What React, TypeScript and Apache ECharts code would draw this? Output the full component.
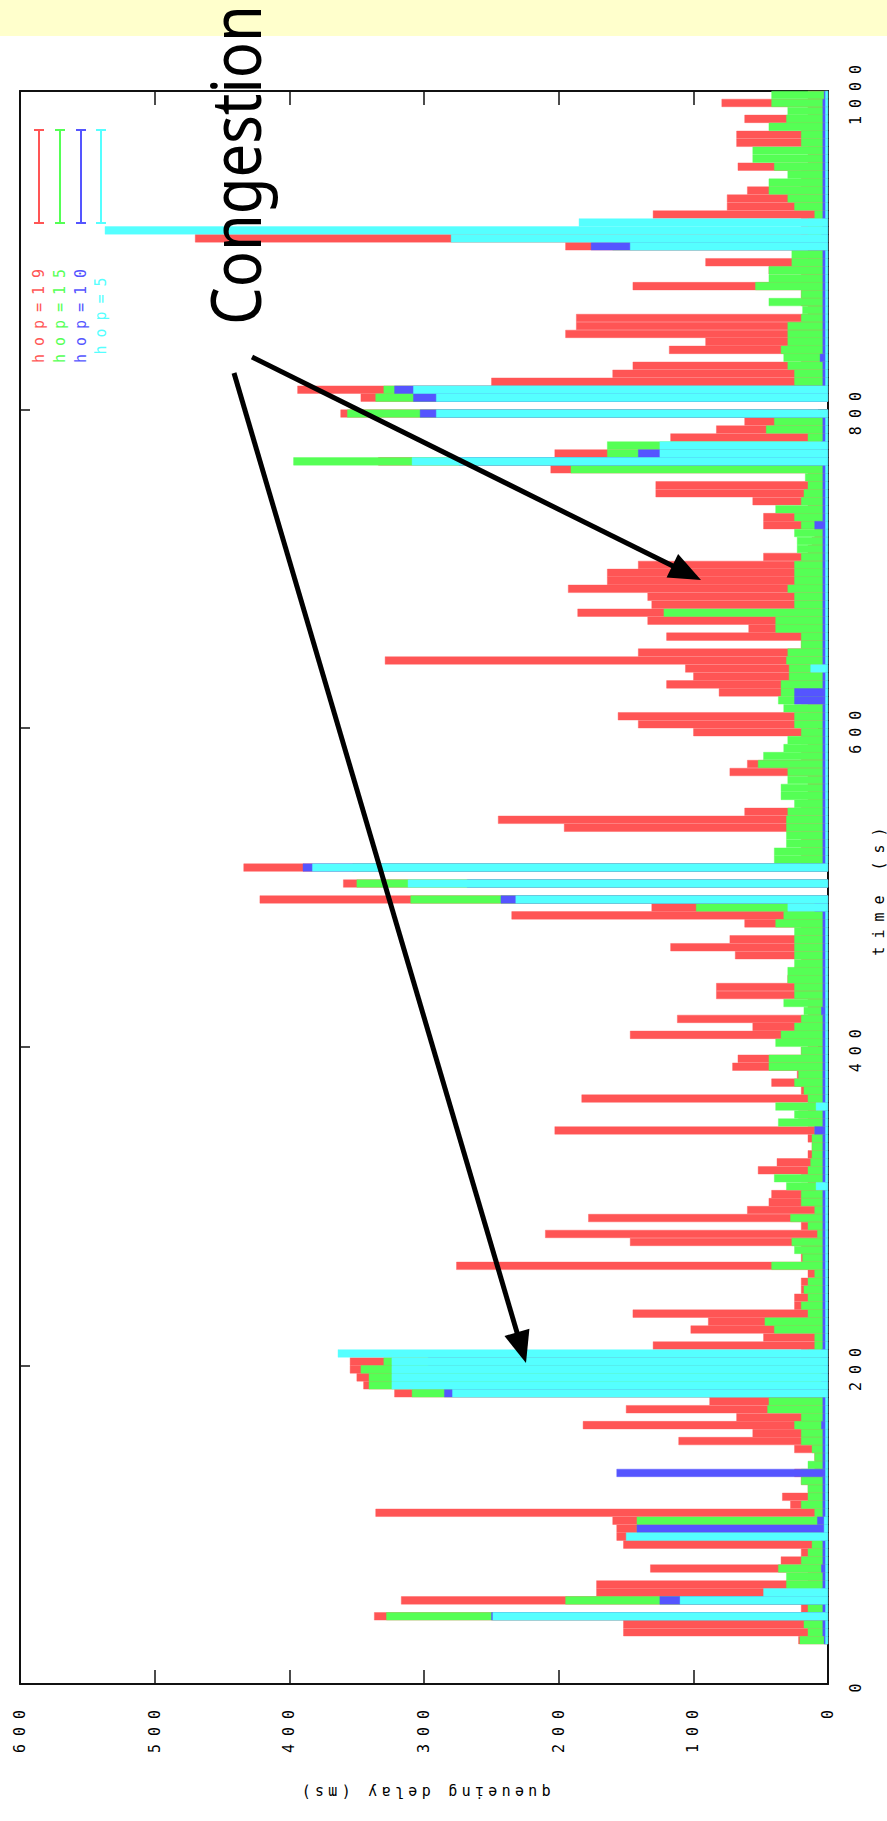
import React, { useEffect, useRef } from "react";
import * as echarts from "echarts";

// ---------- data (5-second bins, bin i covers i*5 .. i*5+5 s) ----------
const BIN_SECONDS = 5;

// queueing delay (ms) of the path up to hop 19
const HOP19: (number | null)[] = [
  null, null, null, null, null, 22, 152, 152, 337, 20,
  317, 172, 172, 15, 132, 35, 20, 152, 157, 157,
  160, 336, 28, 34, 15, 20, 25, 10, 10, 25,
  111, 56, 182, 68, 150, 88, 322, 345, 350, 355,
  355, 20, 130, 48, 102, 89, 145, 25, 25, 20,
  20, 15, 276, 20, 20, 147, 210, 20, 178, 60,
  44, 42, 15, 20, 52, 38, 15, 12, 15, 203,
  15, 22, 15, 183, 20, 42, 23, 71, 67, 20,
  15, 147, 56, 112, 15, 15, 83, 83, 30, 25,
  20, 69, 117, 73, 20, 62, 235, 131, 422, null,
  360, null, 434, 20, 20, 20, 20, 196, 245, 62,
  20, 15, 15, 15, 73, 60, 20, 15, 20, 100,
  141, 156, 15, 20, 81, 120, 100, 106, 329, 141,
  20, 120, 59, 134, 186, 131, 134, 193, 164, 164,
  141, 48, 15, 12, 10, 48, 48, 15, 56, 128,
  128, 15, 206, 334, 203, 117, 117, 83, 62, 362,
  null, 347, 394, 250, 160, 145, 20, 118, 91, 195,
  187, 187, 15, 20, 20, 145, 20, 44, 91, 15,
  195, 470, 20, 20, 130, 75, 75, 60, 20, 20,
  67, 15, 15, 68, 68, 20, 62, 15, 79, 15,
];

const HOP15: (number | null)[] = [
  null, null, null, null, null, 21, 15, 18, 328, 15,
  195, 30, 31, 31, 37, 20, 15, 12, 20, 142,
  142, 10, 20, 15, 15, 20, 20, 15, 10, 12,
  20, 20, 25, 20, 45, 44, 309, 341, 341, 347,
  330, 15, 10, 10, 40, 47, 15, 20, 15, 18,
  15, 10, 42, 19, 25, 27, 8, 15, 28, 10,
  20, 20, 31, 40, 15, 13, 12, 12, 12, 10,
  37, 25, 39, 15, 18, 25, 22, 44, 44, 20,
  39, 35, 25, 20, 18, 33, 25, 25, 30, 30,
  25, 25, 25, 25, 25, 39, 33, 98, 310, null,
  350, null, 353, 40, 40, 31, 31, 31, 31, 30,
  25, 35, 35, 30, 30, 52, 48, 33, 30, 20,
  25, 25, 33, 37, 35, 35, 29, 29, 31, 30,
  20, 20, 39, 39, 122, 25, 25, 30, 25, 25,
  25, 20, 23, 23, 25, 20, 25, 39, 20, 18,
  15, 17, 191, 397, 164, 164, 15, 46, 40, 357,
  null, 336, 330, 25, 25, 30, 33, 35, 30, 30,
  30, 20, 19, 44, 20, 54, 44, 44, 27, 27,
  160, 15, 15, 15, 10, 25, 30, 44, 44, 30,
  40, 56, 56, 20, 20, 44, 31, 30, 42, 42,
];

const HOP10: (number | null)[] = [
  null, null, null, null, null, 3, 4, 4, 250, 4,
  125, 5, 4, 4, 5, 4, 4, 4, 5, 142,
  8, 4, 4, 4, 4, 4, 157, 4, 4, 4,
  4, 4, 5, 4, 4, 4, 285, 5, 5, 3,
  297, 5, 4, 4, 4, 4, 4, 4, 4, 4,
  4, 4, 4, 4, 4, 4, 4, 4, 4, 4,
  4, 4, 4, 4, 4, 4, 4, 4, 4, 10,
  4, 4, 4, 4, 4, 4, 4, 4, 4, 4,
  4, 4, 4, 4, 5, 4, 4, 4, 4, 4,
  4, 4, 4, 4, 4, 4, 4, 10, 243, null,
  268, null, 390, 4, 4, 4, 4, 4, 4, 4,
  4, 4, 4, 4, 4, 4, 4, 4, 4, 4,
  4, 4, 4, 25, 25, 4, 4, 4, 4, 4,
  4, 4, 4, 4, 4, 4, 4, 4, 4, 4,
  4, 4, 4, 4, 4, 10, 4, 4, 4, 4,
  4, 4, 4, 274, 141, 5, 4, 4, 4, 303,
  null, 308, 322, 4, 4, 4, 6, 4, 4, 4,
  4, 4, 4, 4, 4, 4, 4, 4, 4, 4,
  176, 5, 4, 4, 4, 4, 4, 4, 4, 4,
  4, 4, 4, 4, 4, 4, 4, 4, 4, 3,
];

const HOP5: (number | null)[] = [
  null, null, null, null, null, 2, 2, 2, 249, 2,
  110, 48, 2, 2, 2, 2, 2, 2, 150, 3,
  3, 2, 2, 2, 2, 2, 2, 2, 2, 2,
  2, 2, 2, 2, 2, 2, 279, 324, 324, 324,
  324, 364, 2, 2, 2, 2, 2, 2, 2, 2,
  2, 2, 2, 2, 2, 2, 2, 2, 2, 2,
  2, 2, 9, 2, 2, 2, 2, 2, 2, 2,
  2, 2, 9, 2, 2, 2, 2, 2, 2, 2,
  2, 2, 2, 2, 2, 2, 2, 2, 2, 2,
  2, 2, 2, 2, 2, 2, 2, 30, 232, null,
  312, null, 383, 2, 2, 2, 2, 2, 2, 2,
  2, 2, 2, 2, 2, 2, 2, 2, 2, 2,
  2, 2, 2, 2, 2, 2, 2, 13, 2, 2,
  2, 2, 2, 2, 2, 2, 2, 2, 2, 2,
  2, 2, 2, 2, 2, 2, 2, 2, 2, 2,
  2, 2, 2, 309, 125, 125, 2, 2, 2, 291,
  null, 291, 308, 2, 2, 2, 2, 2, 2, 2,
  2, 2, 2, 2, 2, 2, 2, 2, 2, 2,
  147, 280, 537, 185, 2, 2, 2, 2, 2, 2,
  2, 2, 2, 2, 2, 2, 2, 2, 2, 2,
];

const SERIES_NAMES = ["hop=19", "hop=15", "hop=10", "hop=5"];
const DELAY_MAX = 600;
const DELAY_STEP = 100;
const TIME_MAX = 1000;
const TIME_STEP = 200;

// ---------- styles ----------
const COLORS = ["#ff5555", "#55ff55", "#5555ff", "#55ffff"];
const MONO = '"DejaVu Sans Mono", "Liberation Mono", monospace';
const W = 887;
const H = 1821;
const GRID = { left: 20, right: 59, top: 91, bottom: 137 };

function arrow(from: number[], to: number[]) {
  const dx = to[0] - from[0];
  const dy = to[1] - from[1];
  const len = Math.sqrt(dx * dx + dy * dy);
  const ux = dx / len;
  const uy = dy / len;
  const L = 32;
  const HW = 13;
  const bx = to[0] - ux * L;
  const by = to[1] - uy * L;
  const px = -uy;
  const py = ux;
  return [
    {
      type: "line",
      z: 100,
      shape: { x1: from[0], y1: from[1], x2: bx + ux * 4, y2: by + uy * 4 },
      style: { stroke: "#000", lineWidth: 5 },
    },
    {
      type: "polygon",
      z: 100,
      shape: {
        points: [
          [to[0], to[1]],
          [bx + px * HW, by + py * HW],
          [bx - px * HW, by - py * HW],
        ],
      },
      style: { fill: "#000" },
    },
  ];
}

export default function App() {
  const ref = useRef<HTMLDivElement>(null);

  useEffect(() => {
    const el = ref.current!;
    const chart = echarts.init(el, null, { renderer: "svg" });
    const bins = HOP19.map((_, i) => String(i * BIN_SECONDS));
    const dataSets = [HOP19, HOP15, HOP10, HOP5];

    const frameLine = { show: true, onZero: false, lineStyle: { color: "#111", width: 2 } };
    const labelStyle = { fontFamily: MONO, fontSize: 15, color: "#000", formatter: (v: number) => String(v) };

    const legendX = [39, 60, 81, 101];
    const legendEls: any[] = [];
    SERIES_NAMES.forEach((name, i) => {
      const x = legendX[i];
      const c = COLORS[i];
      legendEls.push(
        { type: "line", z: 100, shape: { x1: x, y1: 130, x2: x, y2: 223 }, style: { stroke: c, lineWidth: 2 } },
        { type: "line", z: 100, shape: { x1: x - 5, y1: 130, x2: x + 5, y2: 130 }, style: { stroke: c, lineWidth: 2 } },
        { type: "line", z: 100, shape: { x1: x - 5, y1: 223, x2: x + 5, y2: 223 }, style: { stroke: c, lineWidth: 2 } },
        {
          type: "text",
          z: 100,
          x: x,
          y: 312,
          rotation: Math.PI / 2,
          style: {
            text: name,
            fill: c,
            font: `15px ${MONO}`,
            align: "center",
            verticalAlign: "middle",
            textAlign: "center",
            textVerticalAlign: "middle",
          },
        }
      );
    });

    const option: any = {
      animation: false,
      backgroundColor: "#fff",
      grid: { ...GRID, containLabel: false, outerBoundsMode: "none" },
      xAxis: [
        {
          type: "value",
          min: 0,
          max: DELAY_MAX,
          interval: DELAY_STEP,
          inverse: true,
          position: "bottom",
          axisLine: frameLine,
          axisTick: { show: true, inside: true, length: 14, lineStyle: { color: "#111", width: 1.5 } },
          splitLine: { show: false },
          axisLabel: { ...labelStyle, rotate: 90, margin: 18 },
          name: "queueing delay (ms)",
          nameLocation: "middle",
          nameGap: 100,
          nameRotate: 180,
          nameTextStyle: { fontFamily: MONO, fontSize: 15, color: "#000" },
        },
        {
          type: "value",
          min: 0,
          max: DELAY_MAX,
          interval: DELAY_STEP,
          inverse: true,
          position: "top",
          axisLine: frameLine,
          axisTick: { show: true, inside: true, length: 14, lineStyle: { color: "#111", width: 1.5 } },
          splitLine: { show: false },
          axisLabel: { show: false },
        },
      ],
      yAxis: [
        { type: "category", data: bins, show: false, boundaryGap: true },
        {
          type: "value",
          min: 0,
          max: TIME_MAX,
          interval: TIME_STEP,
          position: "right",
          axisLine: frameLine,
          axisTick: { show: true, inside: true, length: 10, lineStyle: { color: "#111", width: 1.5 } },
          splitLine: { show: false },
          axisLabel: { ...labelStyle, rotate: 90, margin: 20 },
          name: "time (s)",
          nameLocation: "middle",
          nameGap: 43,
          nameRotate: 90,
          nameTextStyle: { fontFamily: MONO, fontSize: 15, color: "#000" },
        },
        {
          type: "value",
          min: 0,
          max: TIME_MAX,
          interval: TIME_STEP,
          position: "left",
          axisLine: frameLine,
          axisTick: { show: true, inside: true, length: 10, lineStyle: { color: "#111", width: 1.5 } },
          splitLine: { show: false },
          axisLabel: { show: false },
        },
      ],
      series: dataSets.map((d, i) => ({
        type: "bar",
        name: SERIES_NAMES[i],
        data: d,
        xAxisIndex: 0,
        yAxisIndex: 0,
        barWidth: "100%",
        barGap: "-100%",
        barCategoryGap: "0%",
        silent: true,
        itemStyle: { color: COLORS[i], borderColor: COLORS[i], borderWidth: 0.4 },
      })),
      graphic: {
        elements: [
          { type: "rect", z: 1, shape: { x: 0, y: 0, width: W, height: 36 }, style: { fill: "#ffffcc" } },
          ...legendEls,
          ...arrow([252, 357], [701, 580]),
          ...arrow([234, 373], [526, 1363]),
          {
            type: "text",
            z: 101,
            x: 234,
            y: 325,
            rotation: Math.PI / 2,
            scaleX: 1.03,
            scaleY: 1.2,
            style: {
              text: "Congestion",
              fill: "#000",
              font: '58px "Noto Sans", "DejaVu Sans", sans-serif',
              align: "left",
              verticalAlign: "middle",
              textAlign: "left",
              textVerticalAlign: "middle",
            },
          },
        ],
      },
    };

    chart.setOption(option);

    const apply = () => {
      el.querySelectorAll("text").forEach((t) => {
        const s = t.textContent || "";
        let ls = "8px";
        if (s === "Congestion") ls = "0px";
        else if (s === "queueing delay (ms)") ls = "4.3px";
        (t as SVGTextElement).style.letterSpacing = ls;
      });
    };
    apply();
    chart.on("finished", apply);
    const raf = requestAnimationFrame(apply);
    const to = setTimeout(apply, 60);

    return () => {
      cancelAnimationFrame(raf);
      clearTimeout(to);
      chart.dispose();
    };
  }, []);

  return (
    <div
      ref={ref}
      style={{ position: "absolute", left: 0, top: 0, width: W, height: H, overflow: "hidden", background: "#fff" }}
    />
  );
}
